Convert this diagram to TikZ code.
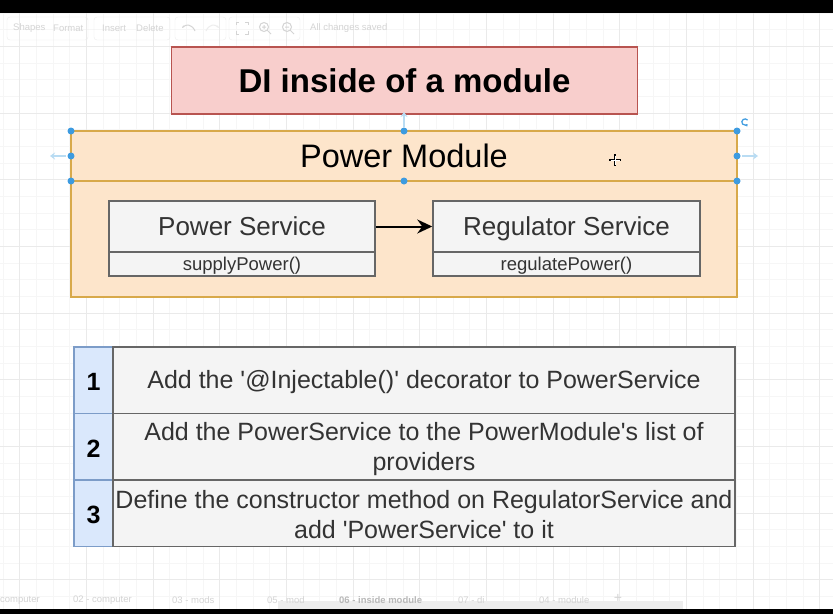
\documentclass[tikz,border=0pt]{standalone}
\usepackage{fontspec}
\setmainfont{Liberation Sans}[Ligatures=TeXOff]
\usetikzlibrary{arrows.meta}
\definecolor{titlefill}{HTML}{F8CECC}
\definecolor{titledraw}{HTML}{B85450}
\definecolor{modfill}{HTML}{FDE5CB}
\definecolor{moddraw}{HTML}{D8A94A}
\definecolor{boxfill}{HTML}{F4F4F4}
\definecolor{boxdraw}{HTML}{666666}
\definecolor{boxtext}{HTML}{333333}
\definecolor{numfill}{HTML}{DAE8FC}
\definecolor{numdraw}{HTML}{7C9CC8}
\definecolor{selblue}{HTML}{3D9BE0}
\definecolor{selfaint}{HTML}{B9DCF3}
\definecolor{gridminor}{HTML}{F6F6F6}
\definecolor{gridmajor}{HTML}{EAEAEA}
\definecolor{uitext}{HTML}{D4D4D4}
\definecolor{uiline}{HTML}{EDEDED}
\tikzset{
  titlebox/.style={draw=titledraw,fill=titlefill,line width=1.5pt,inner sep=0pt,
    minimum width=466pt,minimum height=67pt,font=\fontsize{33}{40}\selectfont\bfseries},
  modbox/.style={draw=moddraw,fill=modfill,line width=1.5pt,inner sep=0pt},
  classhead/.style={draw=boxdraw,fill=boxfill,line width=1.5pt,inner sep=0pt,text=boxtext,
    minimum height=51pt,text height=24pt,text depth=5.2pt,font=\fontsize{26}{30}\selectfont},
  classbody/.style={draw=boxdraw,fill=boxfill,line width=1.5pt,inner sep=0pt,text=boxtext,
    minimum height=24pt,text height=17pt,text depth=3.7pt,font=\fontsize{18.5}{22}\selectfont},
  numcell/.style={draw=numdraw,fill=numfill,line width=1.5pt,inner sep=0pt,
    minimum width=39pt,minimum height=66.5pt},
  textcell/.style={draw=boxdraw,fill=boxfill,line width=1.5pt,inner sep=0pt,
    minimum width=622pt,minimum height=66.5pt},
  numtext/.style={inner sep=0pt,font=\fontsize{25}{30}\selectfont\bfseries},
  celltext/.style={inner sep=0pt,text=boxtext,align=center,font=\fontsize{25}{30}\selectfont},
  handle/.style={circle,fill=selblue,inner sep=0pt,minimum size=7pt},
  uilabel/.style={text=uitext,inner sep=0pt,font=\fontsize{9.5}{11}\selectfont},
}
\begin{document}
\begin{tikzpicture}[x=1pt,y=-1pt]
\useasboundingbox (0,0) rectangle (833,614);
\fill[white] (0,0) rectangle (833,614);
% grid
\foreach \i in {0,...,49} {
  \pgfmathsetmacro{\gx}{3+16.667*\i}
  \draw[gridminor,line width=0.8pt] (\gx,13) -- (\gx,609);
}
\foreach \i in {0,...,35} {
  \pgfmathsetmacro{\gy}{13+16.667*\i}
  \draw[gridminor,line width=0.8pt] (0,\gy) -- (833,\gy);
}
\foreach \i in {0,...,12} {
  \pgfmathsetmacro{\gx}{19.67+66.667*\i}
  \draw[gridmajor,line width=0.8pt] (\gx,13) -- (\gx,609);
}
\foreach \i in {0,...,8} {
  \pgfmathsetmacro{\gy}{46.33+66.667*\i}
  \draw[gridmajor,line width=0.8pt] (0,\gy) -- (833,\gy);
}
% toolbar (faded)
\draw[uiline,rounded corners=3pt] (7,17) rectangle (88,40);
\draw[uiline,rounded corners=3pt] (94,17) rectangle (170,40);
\draw[uiline,rounded corners=3pt] (175,17) rectangle (226,40);
\draw[uiline,rounded corners=3pt] (229,17) rectangle (300,40);
\node[uilabel,anchor=west] (tbshapes) at (13,28) {Shapes};
\node[uilabel,anchor=west] (tbformat) at (53,28) {Format};
\node[uilabel,anchor=west] (tbinsert) at (102,28) {Insert};
\node[uilabel,anchor=west] (tbdelete) at (136,28) {Delete};
\node[uilabel,anchor=west] (tbsaved) at (310,28) {All changes saved};
\draw[uitext,line width=1pt,-{Stealth[length=3pt]}] (195,31) .. controls (192,24) and (186,24) .. (182,28);
\draw[uiline,line width=1pt,-{Stealth[length=3pt]}] (206,31) .. controls (209,24) and (215,24) .. (219,28);
\draw[uitext,line width=1pt] (236,25) -- (236,22) -- (239,22) (245,22) -- (248,22) -- (248,25)
  (248,31) -- (248,34) -- (245,34) (239,34) -- (236,34) -- (236,31);
\draw[uitext,line width=1pt] (264,27) circle (4.5) (267.5,30.5) -- (271,34) (262,27) -- (266,27) (264,25) -- (264,29);
\draw[uitext,line width=1pt] (287,27) circle (4.5) (290.5,30.5) -- (294,34) (285,27) -- (289,27);
% bottom tabs (faded)
\fill[uiline] (278,601) rectangle (683,609);
\node[uilabel,anchor=west] (tab1) at (0,600) {computer};
\node[uilabel,anchor=west] (tab2) at (73,600) {02 - computer};
\node[uilabel,anchor=west] (tab3) at (172,600) {03 - mods};
\node[uilabel,anchor=west] (tab4) at (267,600) {05 - mod};
\node[uilabel,anchor=west,text=black!28,font=\fontsize{9.5}{11}\selectfont\bfseries] (tab5) at (339,600) {06 - inside module};
\node[uilabel,anchor=west] (tab6) at (458,600) {07 - di};
\node[uilabel,anchor=west] (tab7) at (539,600) {04 - module};
\node[uilabel,font=\fontsize{14}{14}\selectfont] (tabplus) at (618,598) {+};
% black bars
\fill[black] (0,0) rectangle (833,13);
\fill[black] (0,609) rectangle (833,614);
% title
\node[titlebox] (title) at (404.5,80.5) {DI inside of a module};
% module
\node[modbox,minimum width=666pt,minimum height=166pt] (module) at (404,214) {};
\coordinate (hdl) at (71,181);
\coordinate (hdr) at (737,181);
\draw[moddraw,line width=1.5pt] (hdl) -- (hdr);
\node[inner sep=0pt,font=\fontsize{32.5}{38}\selectfont] (modlabel) at (404,156) {Power Module};
% classes
\node[classhead,minimum width=266pt] (ps) at (242,226.5) {Power Service};
\node[classbody,minimum width=266pt] (psm) at (242,264) {supplyPower()};
\node[classhead,minimum width=267pt] (rs) at (566.5,226.5) {Regulator Service};
\node[classbody,minimum width=267pt] (rsm) at (566.5,264) {regulatePower()};
\draw[line width=2pt,-{Stealth[length=15pt,width=14pt,inset=5pt]}] (ps) -- (rs);
% selection handles
\coordinate (hup) at (404,112);
\draw[selfaint,line width=2pt,-{Stealth[length=5pt,width=7pt]}] (404,127) -- (hup);
\coordinate (hleft) at (50,156);
\draw[selfaint,line width=2pt,-{Stealth[length=5pt,width=7pt]}] (66,156) -- (hleft);
\coordinate (hright) at (758,156);
\draw[selfaint,line width=2pt,-{Stealth[length=5pt,width=7pt]}] (742,156) -- (hright);
\foreach \hx/\hy [count=\k] in {71/131,404/131,737/131,71/156,737/156,71/181,404/181,737/181}
  \node[handle] (h\k) at (\hx,\hy) {};
\draw[selblue,line width=1.2pt,-{Stealth[length=2.5pt,width=3pt]}] (747.5,120) arc[start angle=40,end angle=320,radius=3.2pt];
% cursor
\coordinate (cur) at (615,160);
\draw[black,line width=1.3pt] (609,160) -- (621,160) (615,154) -- (615,166);
\draw[white,line width=0.4pt] (610.5,160) -- (619.5,160) (615,155.5) -- (615,164.5);
% table
\node[numcell] (n1) at (93.5,380.25) {};
\node[numcell] (n2) at (93.5,446.75) {};
\node[numcell] (n3) at (93.5,513.25) {};
\node[textcell] (t1) at (424,380.25) {};
\node[textcell] (t2) at (424,446.75) {};
\node[textcell] (t3) at (424,513.25) {};
\node[numtext] (n1l) at ([yshift=-2pt]n1.center) {1};
\node[numtext] (n2l) at ([yshift=-2pt]n2.center) {2};
\node[numtext] (n3l) at ([yshift=-2pt]n3.center) {3};
\node[celltext] (t1l) at ([yshift=-2pt]t1.center) {Add the '@Injectable()' decorator to PowerService};
\node[celltext] (t2l) at ([yshift=-2pt]t2.center) {Add the PowerService to the PowerModule's list of\\providers};
\node[celltext] (t3l) at ([yshift=-1pt]t3.center) {Define the constructor method on RegulatorService and\\add 'PowerService' to it};
\end{tikzpicture}
\end{document}
